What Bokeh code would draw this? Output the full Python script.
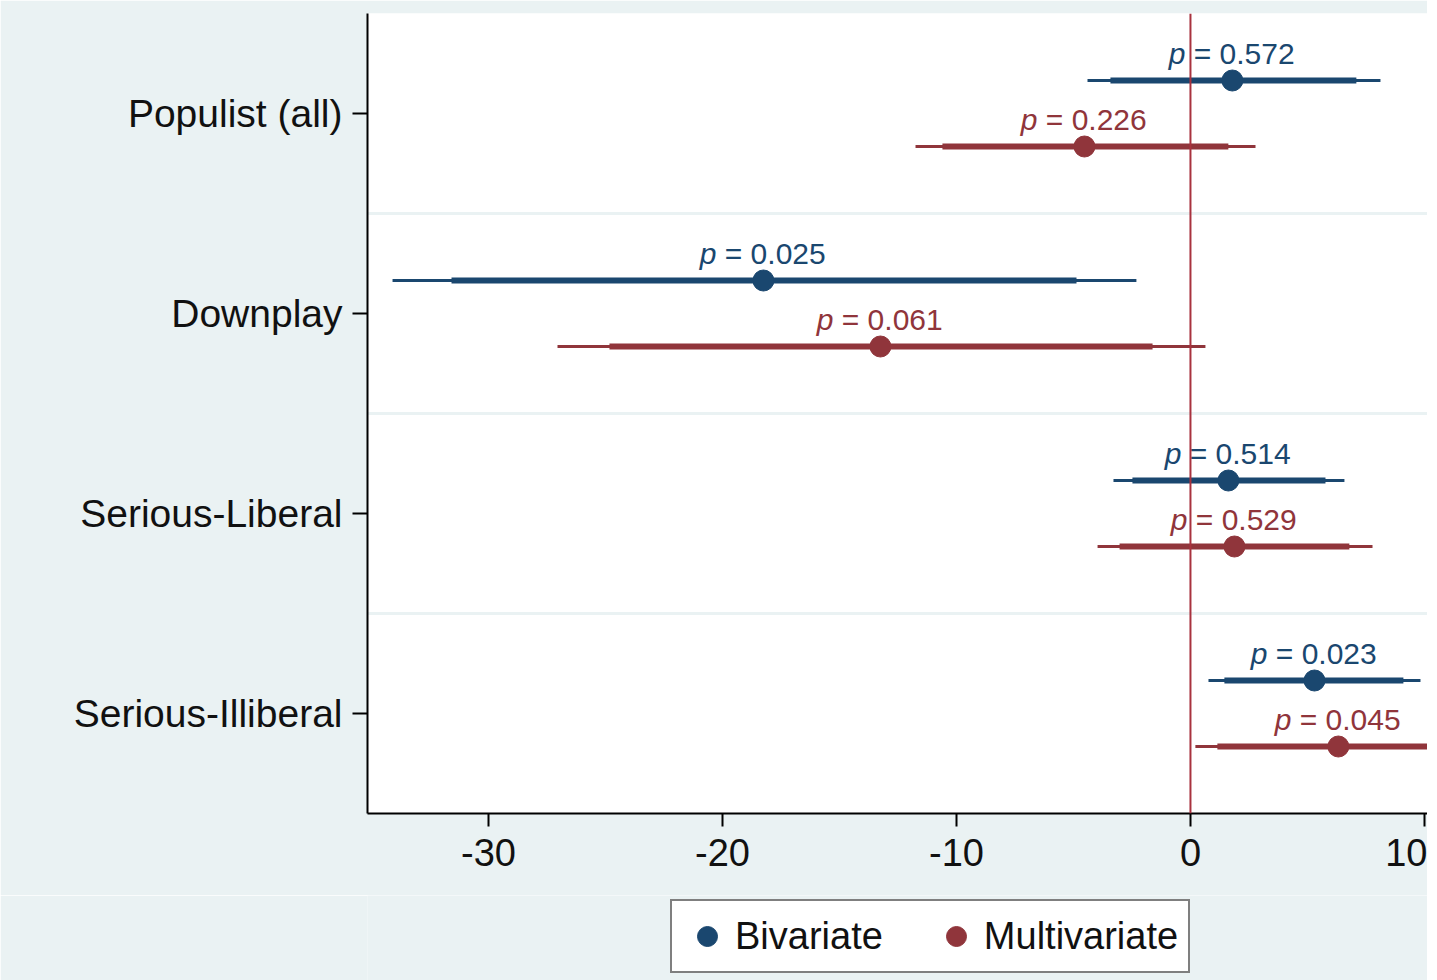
from bokeh.plotting import figure
from bokeh.models import (Range1d, FixedTicker, Span, Legend, LegendItem,
                          ColumnDataSource)
from bokeh.layouts import column
from bokeh.core.properties import value
from bokeh.embed import file_html
from bokeh.resources import INLINE

# ---------------- data ----------------
categories = ["Populist (all)", "Downplay", "Serious-Liberal", "Serious-Illiberal"]

biv_coef = [1.79, -18.25, 1.62, 5.30]
biv_lo95 = [-4.40, -34.10, -3.29, 0.77]
biv_hi95 = [8.12, -2.31, 6.58, 9.83]
biv_lo90 = [-3.42, -31.58, -2.48, 1.45]
biv_hi90 = [7.09, -4.87, 5.77, 9.10]
biv_p = ["0.572", "0.025", "0.514", "0.023"]

multi_coef = [-4.53, -13.25, 1.88, 6.32]
multi_lo95 = [-11.75, -27.05, -3.97, 0.21]
multi_hi95 = [2.78, 0.64, 7.78, 12.43]
multi_lo90 = [-10.60, -24.83, -3.03, 1.15]
multi_hi90 = [1.62, -1.62, 6.79, 11.49]
multi_p = ["0.226", "0.061", "0.529", "0.045"]

series_names = ["Bivariate", "Multivariate"]

x_ticks = [-30, -20, -10, 0, 10]
x_tick_labels = ["-30", "-20", "-10", "0", "10"]

# ---------------- style ----------------
NAVY = "#1a476f"
MAROON = "#90353b"
BG = "#eaf2f3"
FONT = "Liberation Sans"
OFFSET = 0.165
NBSP = "\u00a0"

p = figure(width=1427, height=895, output_backend="svg", toolbar_location=None,
           x_range=Range1d(-35.17, 10.13), y_range=Range1d(4.5, 0.5),
           min_border_left=367, min_border_right=0, min_border_top=13,
           min_border_bottom=82)
p.border_fill_color = BG
p.background_fill_color = "white"
p.outline_line_color = None
p.xgrid.grid_line_color = None
p.ygrid.ticker = FixedTicker(ticks=[i + 1.5 for i in range(len(categories) - 1)])
p.ygrid.grid_line_color = BG
p.ygrid.grid_line_width = 3

pos = list(range(1, len(categories) + 1))


def series(coef, lo95, hi95, lo90, hi90, pv, color, off):
    y = [v + off for v in pos]
    src = ColumnDataSource(dict(y=y, coef=coef, lo95=lo95, hi95=hi95,
                                lo90=lo90, hi90=hi90,
                                ptxt=["p"] * len(pv),
                                rest=[NBSP + "=" + NBSP + s for s in pv]))
    p.segment(x0="lo95", x1="hi95", y0="y", y1="y", source=src,
              line_color=color, line_width=3, line_cap="butt")
    p.segment(x0="lo90", x1="hi90", y0="y", y1="y", source=src,
              line_color=color, line_width=6, line_cap="butt")
    p.scatter(x="coef", y="y", source=src, size=21, fill_color=color,
              line_color=color)
    p.text(x="coef", y="y", text="ptxt", source=src, text_align="right",
           text_baseline="alphabetic", x_offset=-47, y_offset=-27,
           text_font=value(FONT), text_font_style="italic",
           text_font_size="30px", text_color=color)
    p.text(x="coef", y="y", text="rest", source=src, text_align="left",
           text_baseline="alphabetic", x_offset=-47, y_offset=-27,
           text_font=value(FONT), text_font_size="30px", text_color=color)


series(biv_coef, biv_lo95, biv_hi95, biv_lo90, biv_hi90, biv_p, NAVY, -OFFSET)
series(multi_coef, multi_lo95, multi_hi95, multi_lo90, multi_hi90, multi_p, MAROON, OFFSET)

p.add_layout(Span(location=0, dimension="height", line_color="#a8323e", line_width=2))

# axes
p.xaxis.ticker = FixedTicker(ticks=x_ticks)
p.xaxis.major_label_overrides = {t: s for t, s in zip(x_ticks, x_tick_labels)}
p.xaxis.minor_tick_line_color = None
p.xaxis.major_tick_out = 13
p.xaxis.major_tick_in = 0
p.xaxis.major_tick_line_width = 2
p.xaxis.axis_line_width = 2
p.xaxis.axis_line_color = "black"
p.xaxis.major_label_text_font = FONT
p.xaxis.major_label_text_font_size = "38px"
p.xaxis.major_label_text_color = "#111111"
p.xaxis.major_label_standoff = 12

p.yaxis.ticker = FixedTicker(ticks=pos)
p.yaxis.major_label_overrides = {i: c for i, c in zip(pos, categories)}
p.yaxis.minor_tick_line_color = None
p.yaxis.major_tick_out = 15
p.yaxis.major_tick_in = 0
p.yaxis.major_tick_line_width = 2
p.yaxis.axis_line_width = 2
p.yaxis.axis_line_color = "black"
p.yaxis.major_label_text_font = FONT
p.yaxis.major_label_text_font_size = "39px"
p.yaxis.major_label_text_color = "#111111"
p.yaxis.major_label_standoff = 10

# ---------------- legend strip ----------------
lf = figure(width=1427, height=85, output_backend="svg", toolbar_location=None,
            x_range=Range1d(0, 1), y_range=Range1d(0, 1),
            x_axis_type=None, y_axis_type=None,
            min_border_left=0, min_border_right=0, min_border_top=0,
            min_border_bottom=0)
lf.border_fill_color = BG
lf.background_fill_color = BG
lf.outline_line_color = None
lf.xgrid.grid_line_color = None
lf.ygrid.grid_line_color = None

items = []
for name, color in zip(series_names, [NAVY, MAROON]):
    # legend proxy only: a NaN point draws nothing in the strip itself
    r = lf.scatter(x=[float("nan")], y=[float("nan")], size=21,
                   fill_color=color, line_color=color)
    items.append(LegendItem(label=name, renderers=[r]))

legend = Legend(items=items, orientation="horizontal", location=(303, 7))
legend.border_line_color = "black"
legend.border_line_width = 2
legend.background_fill_color = "white"
legend.background_fill_alpha = 1
legend.label_text_font = FONT
legend.label_text_font_size = "38px"
legend.label_text_color = "#111111"
legend.glyph_width = 50
legend.glyph_height = 50
legend.padding = 10
legend.spacing = 48
legend.label_standoff = 3
legend.margin = 0
lf.add_layout(legend, "center")

layout = column(p, lf, spacing=0)
open("out.html", "w").write(file_html(layout, INLINE))
